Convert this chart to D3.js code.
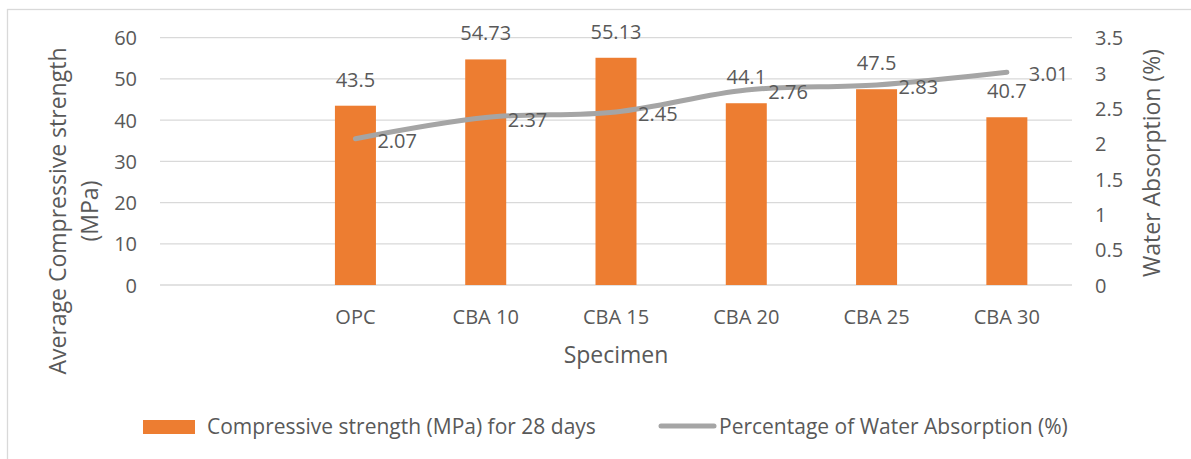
<!DOCTYPE html>
<html>
<head>
<meta charset="utf-8">
<script src="https://cdn.jsdelivr.net/npm/d3@7"></script>
<style>
  html, body { margin: 0; padding: 0; background: #fff; }
  svg { display: block; }
  text { font-family: "Open Sans", sans-serif; fill: #595959; }
</style>
</head>
<body>
<svg id="chart" width="1191" height="459"></svg>
<script>
// Specimen categories (the first slot is left blank on the axis)
const categories = ["", "OPC", "CBA 10", "CBA 15", "CBA 20", "CBA 25", "CBA 30"];
// Compressive strength (MPa) for 28 days
const strength = [null, 43.5, 54.73, 55.13, 44.1, 47.5, 40.7];
// Percentage of water absorption (%)
const absorption = [null, 2.07, 2.37, 2.45, 2.76, 2.83, 3.01];
// Axis tick values
const leftTicks = [0, 10, 20, 30, 40, 50, 60];
const rightTicks = [0, 0.5, 1, 1.5, 2, 2.5, 3, 3.5];
const rightTickLabels = ["0", "0.5", "1", "1.5", "2", "2.5", "3", "3.5"];

const svg = d3.select("#chart");
const W = 1191, H = 459;
const plot = { left: 160, right: 1072, top: 37.7, bottom: 285 };

const orange = "#ED7D31";
const gray = "#A5A5A5";
const gridColor = "#D9D9D9";
const tickFont = "20px";
const titleFont = "23px";

// chart frame
svg.append("rect")
  .attr("x", 7.5).attr("y", 9.5)
  .attr("width", W).attr("height", H)
  .attr("fill", "none").attr("stroke", "#D9D9D9").attr("stroke-width", 1.3);

const x = d3.scaleBand().domain(d3.range(categories.length))
  .range([plot.left, plot.right]).paddingInner(0).paddingOuter(0);
const yL = d3.scaleLinear().domain([0, 60]).range([plot.bottom, plot.top]);
const yR = d3.scaleLinear().domain([0, 3.5]).range([plot.bottom, plot.top]);
const cx = i => x(i) + x.bandwidth() / 2;

// gridlines
svg.append("g").selectAll("line").data(leftTicks).join("line")
  .attr("x1", plot.left).attr("x2", plot.right)
  .attr("y1", d => yL(d)).attr("y2", d => yL(d))
  .attr("stroke", gridColor).attr("stroke-width", 1.3);

// left axis
const leftAxis = svg.append("g")
  .attr("transform", `translate(${plot.left},0)`)
  .call(d3.axisLeft(yL).tickValues(leftTicks).tickSize(0).tickPadding(23));
leftAxis.select(".domain").remove();
leftAxis.selectAll("text").style("font-size", tickFont).attr("fill", "#595959").attr("dy", "0.35em");

// right axis
const rightAxis = svg.append("g")
  .attr("transform", `translate(${plot.right},0)`)
  .call(d3.axisRight(yR).tickValues(rightTicks).tickSize(0).tickPadding(23)
    .tickFormat((d, i) => rightTickLabels[i]));
rightAxis.select(".domain").remove();
rightAxis.selectAll("text").style("font-size", tickFont).attr("fill", "#595959").attr("dy", "0.35em");

// category axis
const bottomAxis = svg.append("g")
  .attr("transform", `translate(0,${plot.bottom})`)
  .call(d3.axisBottom(x).tickSize(0).tickFormat(i => categories[i]));
bottomAxis.select(".domain").remove();
bottomAxis.selectAll("text").style("font-size", tickFont).attr("fill", "#595959").attr("dy", "0.35em").attr("y", 32);

// bars
const barW = 41;
const barData = strength.map((v, i) => ({ i, v })).filter(d => d.v !== null);
svg.append("g").selectAll("rect").data(barData).join("rect")
  .attr("x", d => cx(d.i) - barW / 2)
  .attr("y", d => yL(d.v))
  .attr("width", barW)
  .attr("height", d => yL(0) - yL(d.v))
  .attr("fill", orange);

// water absorption line
const lineData = absorption.map((v, i) => ({ i, v })).filter(d => d.v !== null);
const line = d3.line()
  .x(d => cx(d.i))
  .y(d => yR(d.v))
  .curve(d3.curveCatmullRom.alpha(0.5));
svg.append("path").datum(lineData)
  .attr("d", line)
  .attr("fill", "none").attr("stroke", gray)
  .attr("stroke-width", 5).attr("stroke-linecap", "round").attr("stroke-linejoin", "round");

// bar value labels
svg.append("g").selectAll("text").data(barData).join("text")
  .attr("x", d => cx(d.i))
  .attr("y", d => yL(d.v) - 26)
  .attr("dy", "0.35em")
  .attr("text-anchor", "middle")
  .style("font-size", tickFont)
  .text(d => d.v);

// line value labels
svg.append("g").selectAll("text").data(lineData).join("text")
  .attr("x", d => cx(d.i) + 22)
  .attr("y", d => yR(d.v) + 2)
  .attr("dy", "0.35em")
  .attr("text-anchor", "start")
  .style("font-size", tickFont)
  .text(d => d.v);

// axis titles
const leftTitle = svg.append("text")
  .attr("transform", "translate(74,211) rotate(-90)")
  .attr("text-anchor", "middle")
  .style("font-size", titleFont);
leftTitle.append("tspan").attr("x", 0).attr("y", -8).text("Average Compressive strength");
leftTitle.append("tspan").attr("x", 0).attr("y", 24).text("(MPa)");

svg.append("text")
  .attr("transform", "translate(1152,163) rotate(-90)")
  .attr("text-anchor", "middle")
  .attr("dy", "0.35em")
  .style("font-size", titleFont)
  .text("Water Absorption (%)");

svg.append("text")
  .attr("x", (plot.left + plot.right) / 2)
  .attr("y", 355)
  .attr("dy", "0.35em")
  .attr("text-anchor", "middle")
  .style("font-size", titleFont)
  .text("Specimen");

// legend
const legend = svg.append("g");
legend.append("rect")
  .attr("x", 143).attr("y", 420).attr("width", 52).attr("height", 14)
  .attr("fill", orange);
legend.append("text")
  .attr("x", 207).attr("y", 427).attr("dy", "0.35em")
  .style("font-size", "21px")
  .text("Compressive strength (MPa) for 28 days");
legend.append("line")
  .attr("x1", 661).attr("x2", 714).attr("y1", 426).attr("y2", 426)
  .attr("stroke", gray).attr("stroke-width", 5).attr("stroke-linecap", "round");
legend.append("text")
  .attr("x", 719).attr("y", 427).attr("dy", "0.35em")
  .style("font-size", "21px")
  .text("Percentage of Water Absorption (%)");
</script>
</body>
</html>
